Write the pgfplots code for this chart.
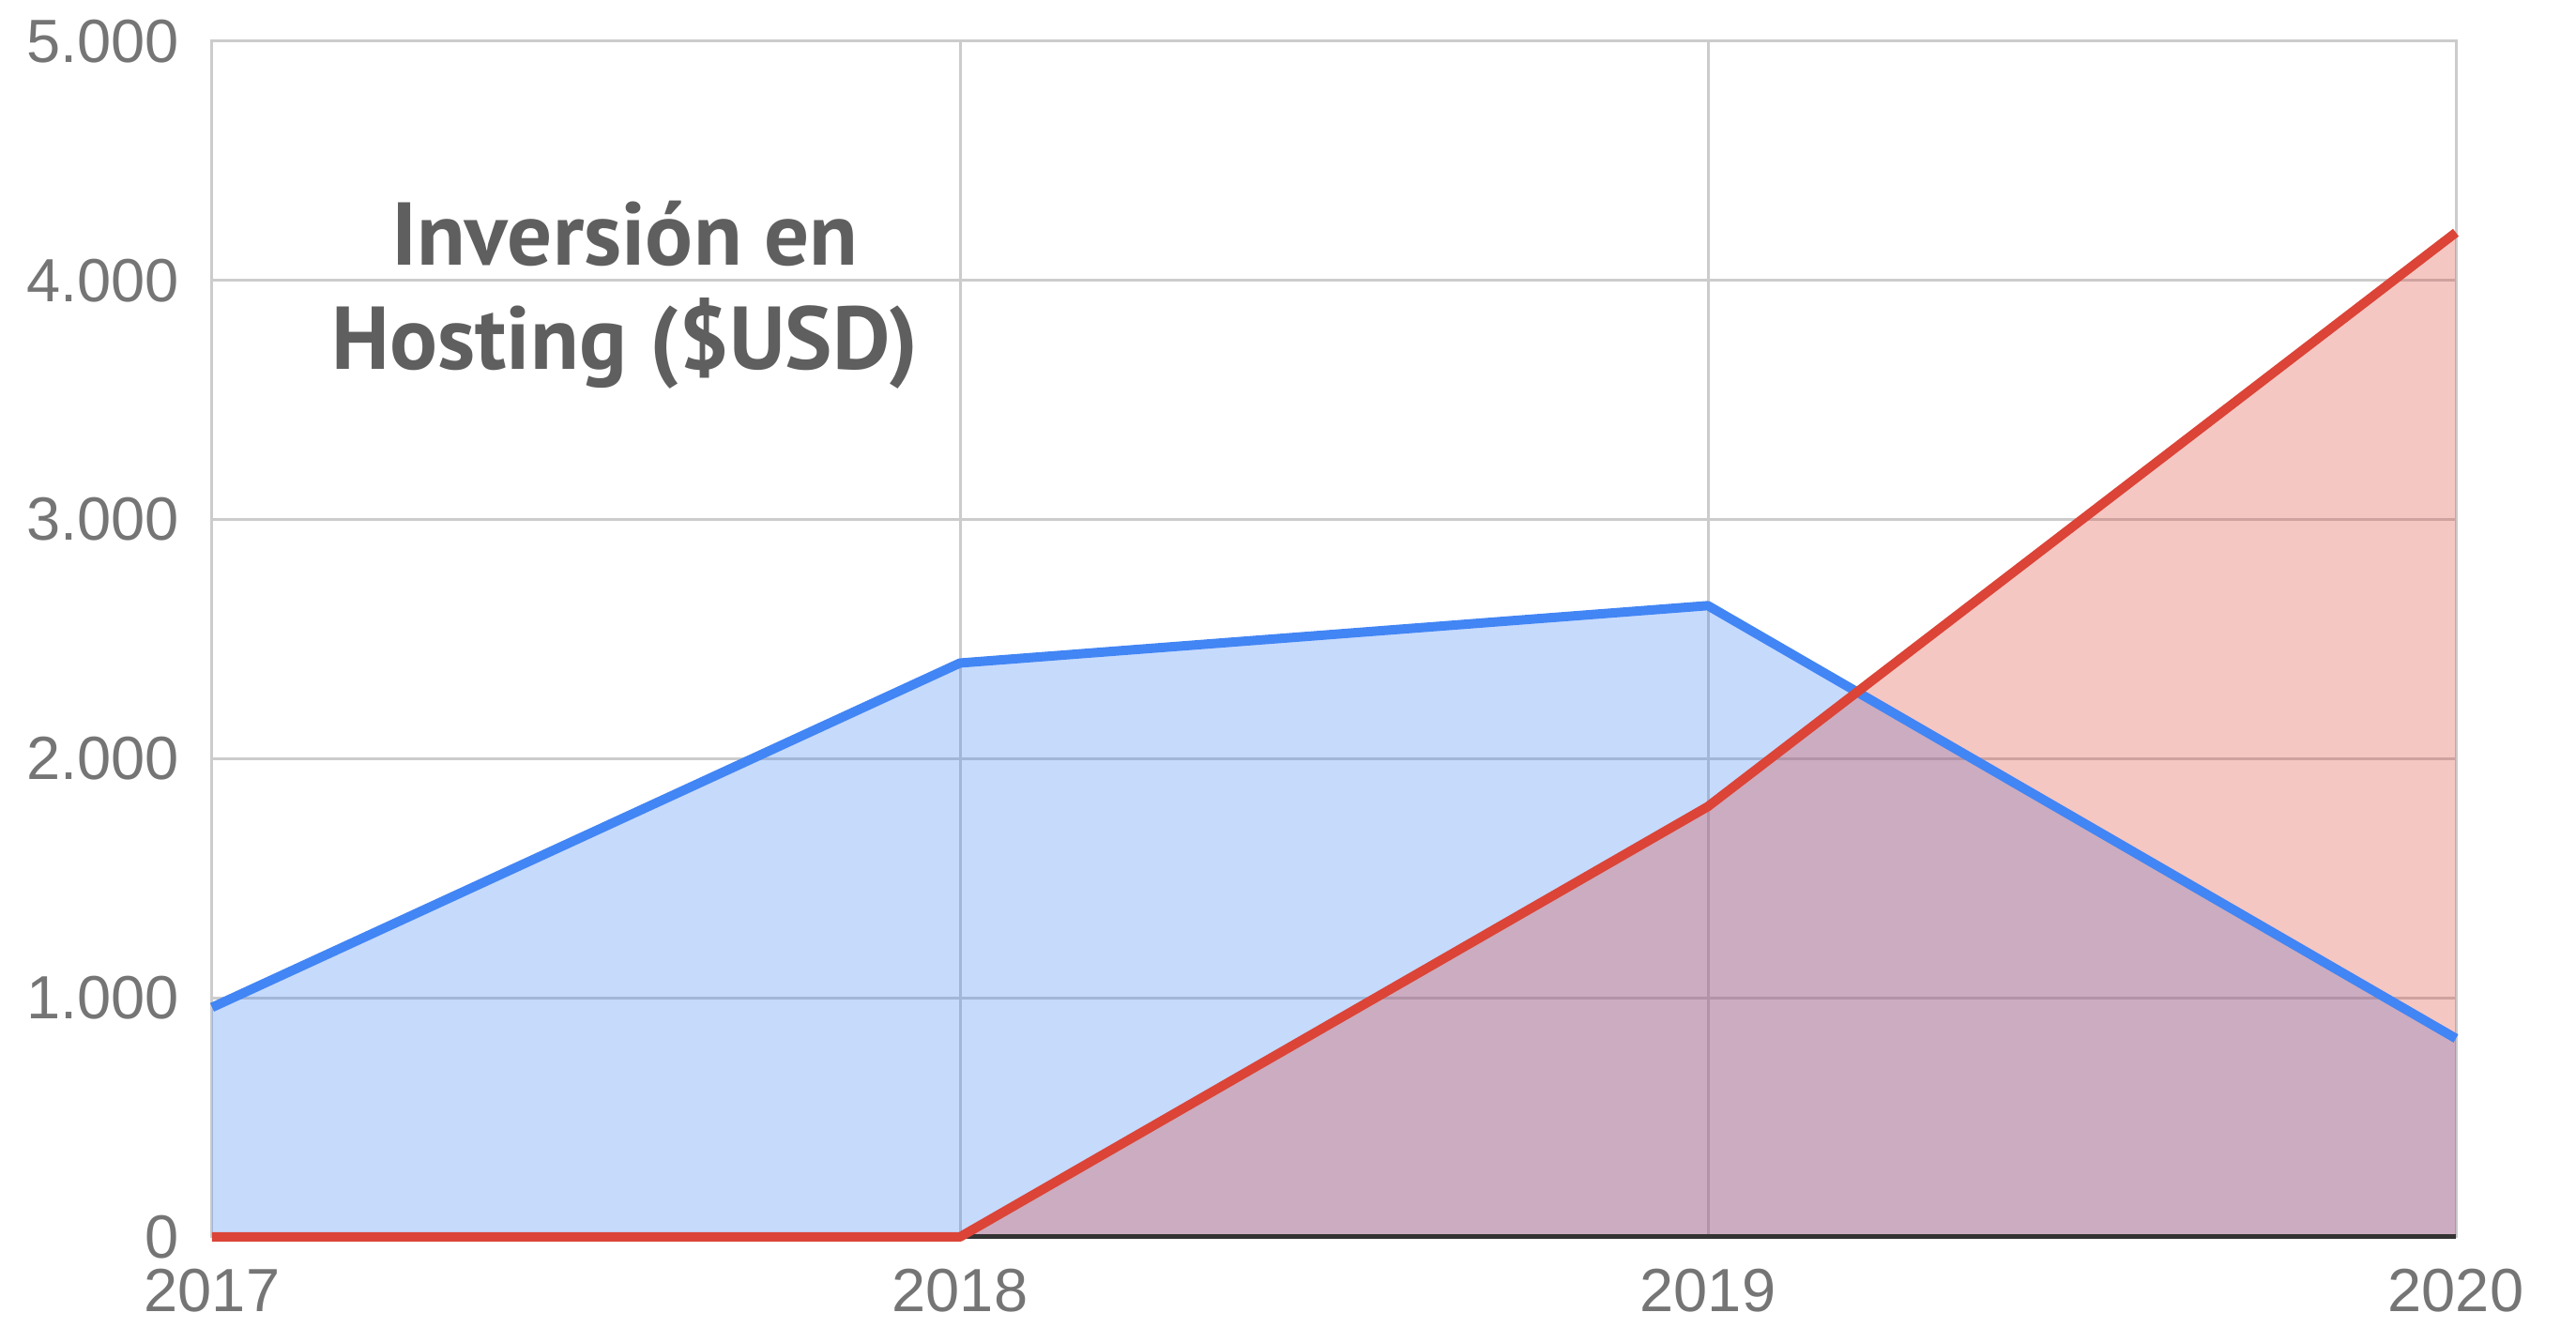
\documentclass[border=0pt]{standalone}
\usepackage{pgfplots}
\pgfplotsset{compat=1.18}
\usepackage{fontspec}
\setmainfont{Liberation Sans}
\newfontfamily\titlefont{PT Sans}
\definecolor{gblue}{HTML}{4285F4}
\definecolor{gred}{HTML}{DB4437}
\definecolor{gridgray}{HTML}{CCCCCC}
\definecolor{ticktext}{HTML}{757575}
\definecolor{titletext}{HTML}{5F5F5F}
\begin{document}
\begin{tikzpicture}
\useasboundingbox (-45.2pt,-19.4pt) rectangle (503.8pt,263.6pt);
\begin{axis}[
  scale only axis,
  width=478.2pt, height=254.8pt,
  xmin=2017, xmax=2020, ymin=0, ymax=5000,
  xtick={2017,2018,2019,2020},
  xticklabels={2017,2018,2019,2020},
  ytick={0,1000,2000,3000,4000,5000},
  yticklabels={0,1.000,2.000,3.000,4.000,5.000},
  grid=major,
  major grid style={draw=gridgray, line width=0.6pt},
  axis line style={draw=gridgray, line width=0.6pt},
  tick style={draw=none},
  tick label style={font=\fontsize{13}{13}\selectfont, text=ticktext, inner sep=0pt},
  x tick label style={anchor=north},
  y tick label style={anchor=east},
  xticklabel shift=6.7pt,
  yticklabel shift=6.8pt,
  clip=false,
]
\addplot[draw=none, fill=gblue, fill opacity=0.3] coordinates {(2017,960) (2018,2400) (2019,2640) (2020,830)} \closedcycle;
\addplot[draw=none, fill=gred, fill opacity=0.3] coordinates {(2017,0) (2018,0) (2019,1800) (2020,4200)} \closedcycle;
\addplot[draw=black!80, line width=1pt] coordinates {(2017,0) (2020,0)};
\addplot[draw=gblue, line width=2pt, line join=round] coordinates {(2017,960) (2018,2400) (2019,2640) (2020,830)};
\addplot[draw=gred, line width=2pt, line join=round] coordinates {(2017,0) (2018,0) (2019,1800) (2020,4200)};
\node[anchor=base, text=titletext, font=\titlefont\bfseries\fontsize{19}{19}\selectfont, inner sep=0pt] at (rel axis cs:0.184,0.813) {Inversión en};
\node[anchor=base, text=titletext, font=\titlefont\bfseries\fontsize{19}{19}\selectfont, inner sep=0pt] at (rel axis cs:0.184,0.726) {Hosting (\$USD)};
\end{axis}
\end{tikzpicture}
\end{document}
